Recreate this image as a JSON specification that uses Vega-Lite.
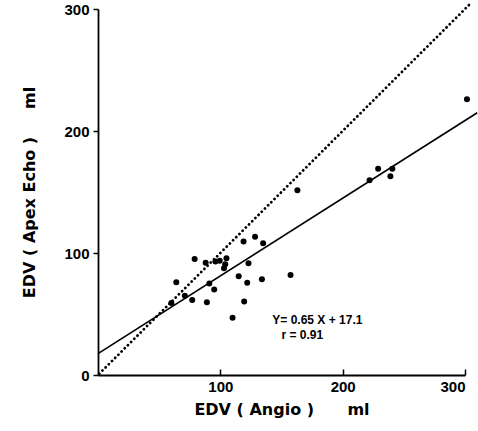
{
  "$schema": "https://vega.github.io/schema/vega-lite/v6.json",
  "width": 367,
  "height": 366,
  "autosize": "none",
  "padding": {"left": 98, "top": 9, "right": 13, "bottom": 56},
  "background": "white",
  "config": {
    "view": {"stroke": null},
    "font": "Liberation Sans",
    "axis": {
      "grid": false,
      "domainColor": "black",
      "domainWidth": 1.8,
      "tickColor": "black",
      "tickWidth": 1.5,
      "labelColor": "black",
      "labelFont": "Liberation Sans",
      "labelFontWeight": "bold",
      "labelFontSize": 15,
      "titleColor": "black",
      "titleFont": "DejaVu Sans",
      "titleFontWeight": "bold",
      "titleFontSize": 16
    }
  },
  "datasets": {
    "pts": [
      {"angio": 60, "echo": 59},
      {"angio": 71, "echo": 65},
      {"angio": 64, "echo": 76},
      {"angio": 77, "echo": 61.5},
      {"angio": 79, "echo": 95},
      {"angio": 88, "echo": 92},
      {"angio": 89, "echo": 59.6},
      {"angio": 91, "echo": 75},
      {"angio": 95, "echo": 70},
      {"angio": 96, "echo": 93},
      {"angio": 99.5, "echo": 93.7},
      {"angio": 105, "echo": 95.6},
      {"angio": 104, "echo": 90.7},
      {"angio": 103, "echo": 87.4},
      {"angio": 110, "echo": 47},
      {"angio": 115, "echo": 81},
      {"angio": 119, "echo": 109.5},
      {"angio": 119.5, "echo": 60.3},
      {"angio": 122, "echo": 75.7},
      {"angio": 123, "echo": 91.5},
      {"angio": 128.4, "echo": 113.4},
      {"angio": 135, "echo": 108},
      {"angio": 134, "echo": 78.4},
      {"angio": 157.4, "echo": 82},
      {"angio": 163, "echo": 151.4},
      {"angio": 222, "echo": 159.6},
      {"angio": 229, "echo": 169},
      {"angio": 239, "echo": 163},
      {"angio": 240.6, "echo": 169},
      {"angio": 301.6, "echo": 226}
    ],
    "identity": [
      {"angio": 1, "echo": 1},
      {"angio": 304, "echo": 304}
    ],
    "regression": [
      {"angio": 0, "echo": 17.5},
      {"angio": 310, "echo": 215}
    ],
    "notes": [
      {"angio": 142.5, "echo": 45, "label": "Y= 0.65 X + 17.1"},
      {"angio": 150, "echo": 33, "label": "r = 0.91"}
    ]
  },
  "layer": [
    {
      "data": {"name": "identity"},
      "mark": {"type": "line", "color": "black", "strokeWidth": 2.8, "strokeDash": [0.1, 4.4], "strokeCap": "round", "clip": false},
      "encoding": {
        "x": {"field": "angio", "type": "quantitative", "scale": {"domain": [0, 300], "nice": false},
              "axis": {"values": [100, 200, 300], "tickSize": -6, "labelPadding": 10, "title": "EDV ( Angio )\u00a0\u00a0\u00a0\u00a0\u00a0\u00a0ml", "titlePadding": 7}},
        "y": {"field": "echo", "type": "quantitative", "scale": {"domain": [0, 300], "nice": false},
              "axis": {"values": [0, 100, 200, 300], "tickSize": 5, "labelPadding": 4, "title": "EDV ( Apex Echo )\u00a0\u00a0\u00a0\u00a0\u00a0ml", "titlePadding": 26}}
      }
    },
    {
      "data": {"name": "regression"},
      "mark": {"type": "line", "color": "black", "strokeWidth": 1.7, "clip": false},
      "encoding": {
        "x": {"field": "angio", "type": "quantitative"},
        "y": {"field": "echo", "type": "quantitative"}
      }
    },
    {
      "data": {"name": "pts"},
      "mark": {"type": "circle", "color": "black", "opacity": 1, "size": 36},
      "encoding": {
        "x": {"field": "angio", "type": "quantitative"},
        "y": {"field": "echo", "type": "quantitative"}
      }
    },
    {
      "data": {"name": "notes"},
      "mark": {"type": "text", "align": "left", "baseline": "middle", "fontSize": 12, "fontWeight": "bold", "font": "Liberation Sans", "color": "black"},
      "encoding": {
        "x": {"field": "angio", "type": "quantitative"},
        "y": {"field": "echo", "type": "quantitative"},
        "text": {"field": "label"}
      }
    }
  ]
}
